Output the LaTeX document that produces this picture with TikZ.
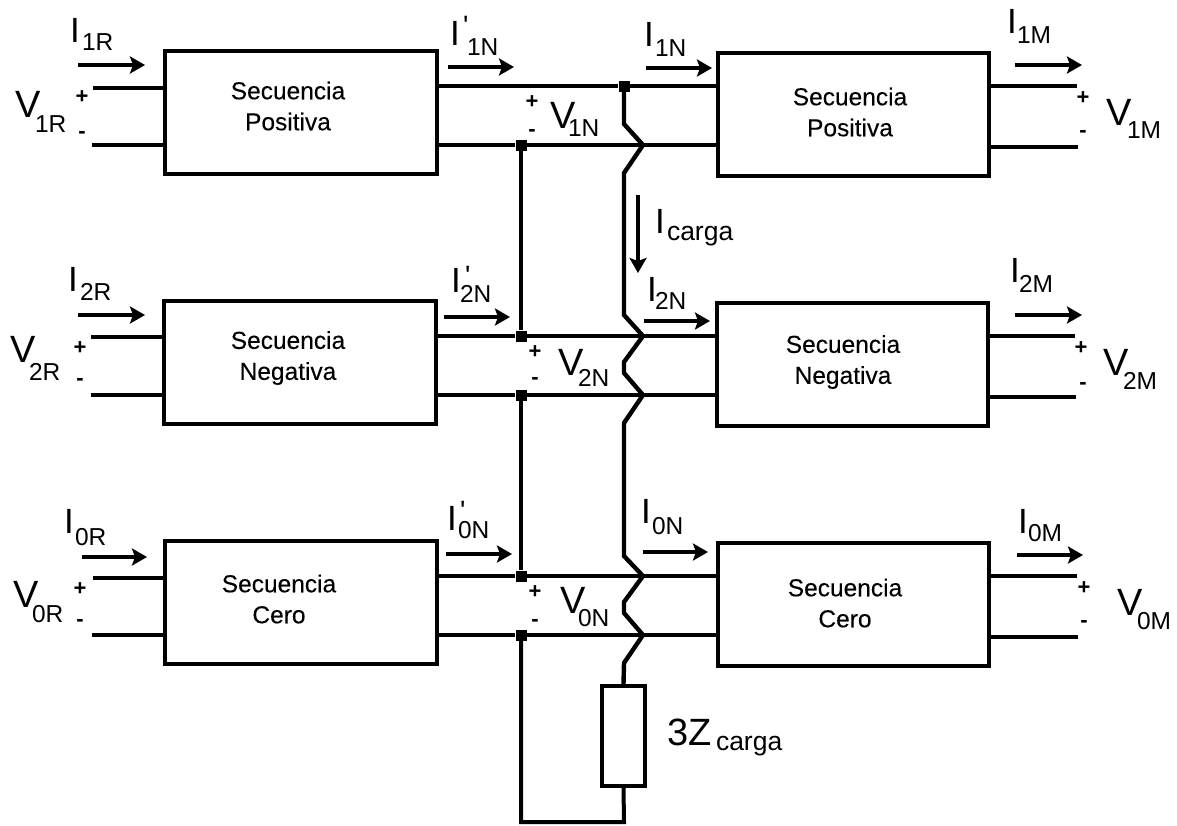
\documentclass[tikz,border=0pt]{standalone}
\usepackage{fontspec}
\setmainfont{Liberation Sans}
\newfontfamily\plainsans{Liberation Sans}
\usetikzlibrary{arrows.meta}
\tikzset{
 x=1pt,y=-1pt,
 wire/.style={line width=4pt,line cap=butt,line join=miter},
 blockbox/.style={draw,line width=4pt,fill=white,inner sep=0pt,minimum width=271.5pt,minimum height=123pt},
 blocktext/.style={inner sep=0pt,align=center,font=\addfontfeature{FakeBold=0.15}\fontsize{24.5}{31}\selectfont},
 flow/.style={line width=4pt,-{Stealth[length=15pt,width=17pt,inset=3pt]}},
 junc/.style={fill=black,minimum size=11pt,inner sep=0pt},
 txt/.style={anchor=base west,inner sep=0pt,outer sep=0pt},
 big/.style={txt,font=\fontsize{35}{35}\selectfont},
 vbig/.style={txt,font=\fontsize{38}{38}\selectfont},
 sub/.style={txt,font=\fontsize{24.5}{24.5}\selectfont},
 subb/.style={txt,font=\fontsize{26.5}{26.5}\selectfont},
 primemark/.style={txt,font=\plainsans\fontsize{28}{28}\selectfont},
 sign/.style={inner sep=0pt,font=\bfseries\fontsize{22}{22}\selectfont},
}
\begin{document}
\begin{tikzpicture}
\useasboundingbox (0,0) rectangle (1177,825);
% blocks
\node[blockbox] (L1) at (301,112) {};
\node[blockbox] (L2) at (300,362) {};
\node[blockbox] (L3) at (301,602.5) {};
\node[blockbox] (R1) at (853.5,114) {};
\node[blockbox] (R2) at (852.5,364) {};
\node[blockbox] (R3) at (853.5,604.5) {};
\node[blocktext] (tL1) at (288,106) {Secuencia\\Positiva};
\node[blocktext] (tL2) at (288,358) {Secuencia\\Negativa};
\node[blocktext] (tL3) at (279,599) {Secuencia\\Cero};
\node[blocktext] (tR1) at (850,112) {Secuencia\\Positiva};
\node[blocktext] (tR2) at (843,362) {Secuencia\\Negativa};
\node[blocktext] (tR3) at (845,603) {Secuencia\\Cero};
% junctions
\node[junc] (J1) at (624,86) {};
\node[junc] (J2) at (521,145) {};
\node[junc] (J3) at (521,336) {};
\node[junc] (J4) at (521,395) {};
\node[junc] (J5) at (521,576) {};
\node[junc] (J6) at (521,635) {};
% free ends
\foreach \n/\x/\y in {a1/93/88,a2/92/145,a3/91/337,a4/91/395,a5/93/578,a6/92/635,
 b1/1077/86,b2/1078/147,b3/1075/336,b4/1076/397,b5/1077/576,b6/1078/637}
   \coordinate (\n) at (\x,\y);
\draw[wire] (a1) -- (a1-|L1.west);
\draw[wire] (a2) -- (a2-|L1.west);
\draw[wire] (a3) -- (a3-|L2.west);
\draw[wire] (a4) -- (a4-|L2.west);
\draw[wire] (a5) -- (a5-|L3.west);
\draw[wire] (a6) -- (a6-|L3.west);
\draw[wire] (b1) -- (b1-|R1.east);
\draw[wire] (b2) -- (b2-|R1.east);
\draw[wire] (b3) -- (b3-|R2.east);
\draw[wire] (b4) -- (b4-|R2.east);
\draw[wire] (b5) -- (b5-|R3.east);
\draw[wire] (b6) -- (b6-|R3.east);
% main lines
\draw[wire] (J1-|L1.east) -- (J1) -- (J1-|R1.west);
\draw[wire] (J2-|L1.east) -- (J2) -- (J2-|R1.west);
\draw[wire] (J3-|L2.east) -- (J3) -- (J3-|R2.west);
\draw[wire] (J4-|L2.east) -- (J4) -- (J4-|R2.west);
\draw[wire] (J5-|L3.east) -- (J5) -- (J5-|R3.west);
\draw[wire] (J6-|L3.east) -- (J6) -- (J6-|R3.west);
% left bus
\draw[wire] (J2) -- (J3);
\draw[wire] (J4) -- (J5);
% load
\node[draw,line width=4pt,minimum width=43pt,minimum height=100pt,inner sep=0pt] (Z) at (623.5,736) {};
\draw[wire,line width=4.4pt] (J1) -- (624,124) -- (643,145) -- (624,173) -- (624,315) -- (643,336) -- (624,362) -- (624,373) -- (643,395) -- (624,423) -- (624,556) -- (643,576) -- (624,602) -- (624,613) -- (643,635) -- (624,663) -- (Z.north);
\coordinate (c1) at (624,822);
\coordinate (c2) at (521,822);
\draw[wire] (Z.south) -- (c1) -- (c2) -- (J6);
% arrows
\foreach \n/\x/\X/\y in {f1/78/145/65,f2/448/514/67,f3/646/712/68,f4/1015/1082/65,
 f5/78/145/315,f6/444/510/317,f7/644/710/321,f8/1015/1082/315,
 f9/82/147/557,f10/446/512/554,f11/643/708/552,f12/1017/1083/555}{
   \coordinate (\n s) at (\x,\y);
   \coordinate (\n e) at (\X,\y);
   \draw[flow] (\n s) -- (\n e);
}
\coordinate (fcs) at (638,195);
\coordinate (fce) at (638,273);
\draw[flow] (fcs) -- (fce);
% labels: I
\foreach \n/\x/\y/\sx/\sy/\s in {i1/70/42/82/50/1R,i2/450/45/467/55/1N,i3/644/46/655/56/1N,i4/1007/33/1017/43/1M,
 i5/68/291/80/300/2R,i6/451/292/460/302/2N,i7/647/301/655/309/2N,i8/1010/282/1019/292/2M,
 i9/64/533/75/545/0R,i10/447/530/458/538/0N,i11/641/523/652/534/0N,i12/1018/533/1028/541/0M}{
   \node[big] (\n) at (\x,\y) {I};
   \node[sub] (\n s) at (\sx,\sy) {\s};
}
\node[big] (i13) at (655,233) {I};
\node[subb] (i13s) at (667,240) {carga};
% primes
\node[primemark] (p1) at (463,35) {'};
\node[primemark] (p2) at (465,285) {'};
\node[primemark] (p3) at (460,520) {'};
% labels: V
\foreach \n/\x/\y/\sx/\sy/\s in {v1/15/117/35/132/1R,v2/550/128/568/136/1N,v3/1106/125/1127/138/1M,
 v4/10/362/29/380/2R,v5/558/375/578/386/2N,v6/1103/375/1123/389/2M,
 v7/13/607/32/622/0R,v8/560/613/578/626/0N,v9/1117/615/1137/629/0M}{
   \node[vbig] (\n) at (\x,\y) {V};
   \node[sub] (\n s) at (\sx,\sy) {\s};
}
\node[vbig] (z) at (667,745) {3Z};
\node[subb] (zs) at (716,750) {carga};
% signs
\foreach \n/\x/\y/\t in {s1/82/97/+,s2/82/135/-,s3/532/102/+,s4/532/133/-,s5/1083/98/+,s6/1083/134/-,
 s7/80/348/+,s8/80/382/-,s9/535/352/+,s10/535/381/-,s11/1081/348/+,s12/1083/386/-,
 s13/80/589/+,s14/80/623/-,s15/535/592/+,s16/535/623/-,s17/1084/588/+,s18/1084/624/-}{
   \node[sign] (\n) at (\x,\y) {\t};
}
\end{tikzpicture}
\end{document}
